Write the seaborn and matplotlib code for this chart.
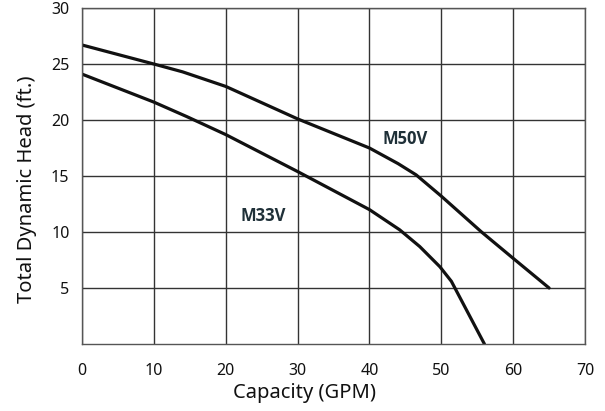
import pandas as pd
import matplotlib.pyplot as plt
import seaborn as sns

# pump curves
m50v_gpm  = [0, 10, 14, 20, 30, 40, 44, 46.5, 50, 55.6, 60, 65]
m50v_head = [26.7, 25.0, 24.3, 23.0, 20.1, 17.5, 16.1, 15.1, 13.2, 10.0, 7.65, 5.0]

m33v_gpm  = [0, 10, 14.6, 20, 30, 40, 44.2, 47, 49.8, 51.4, 56]
m33v_head = [24.1, 21.6, 20.3, 18.7, 15.4, 12.0, 10.2, 8.7, 6.9, 5.6, 0.0]

x_ticks = [0, 10, 20, 30, 40, 50, 60, 70]
y_ticks = [5, 10, 15, 20, 25, 30]

df = pd.concat([
    pd.DataFrame({'gpm': m50v_gpm, 'head': m50v_head, 'model': 'M50V'}),
    pd.DataFrame({'gpm': m33v_gpm, 'head': m33v_head, 'model': 'M33V'}),
])

sns.set_style('white')
plt.rcParams['font.family'] = ['Noto Sans', 'DejaVu Sans']

fig = plt.figure(figsize=(6.05, 4.11), dpi=100)
ax = fig.add_axes([0.1355, 0.163, 0.8315, 0.8175])

sns.lineplot(data=df, x='gpm', y='head', units='model', estimator=None,
             sort=False, color='#111111', linewidth=2.3, ax=ax, legend=False)

ax.set_xlim(0, 70)
ax.set_ylim(0, 30)
ax.set_xticks(x_ticks)
ax.set_yticks(y_ticks)
ax.grid(True, color='#333333', linewidth=1.0)
ax.set_axisbelow(True)
for s in ax.spines.values():
    s.set_color('#555555')
    s.set_linewidth(1.0)
ax.tick_params(axis='both', length=0, labelsize=11.5, colors='#111111')
ax.tick_params(axis='x', pad=14)
ax.tick_params(axis='y', pad=9)

ax.set_xlabel('Capacity (GPM)', fontsize=14.5, color='#111111')
ax.set_ylabel('Total Dynamic Head (ft.)', fontsize=14.5, color='#111111')
# labels sit a bit off the axes centre in the original
ax.xaxis.set_label_coords(0.443, -0.115)
ax.yaxis.set_label_coords(-0.09, 0.461)

lab_font = ['Open Sans', 'Lato', 'DejaVu Sans']
ax.text(45.0, 18.3, 'M50V', fontsize=12, fontweight='bold', color='#1f3038',
        ha='center', va='center', family=lab_font)
ax.text(25.2, 11.4, 'M33V', fontsize=12, fontweight='bold', color='#1f3038',
        ha='center', va='center', family=lab_font)

fig.savefig('out.png', dpi=100)
